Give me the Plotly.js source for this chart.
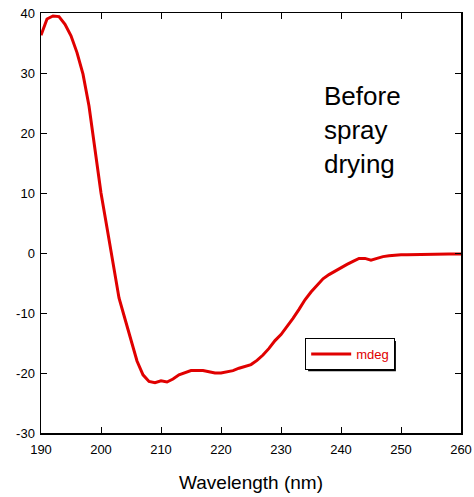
<!DOCTYPE html>
<html>
<head>
<meta charset="utf-8">
<script src="https://cdn.plot.ly/plotly-3.0.1.min.js"></script>
<style>html,body{margin:0;padding:0;background:#fff;}#chart{width:474px;height:497px;}</style>
</head>
<body>
<div id="chart"></div>
<script>
const wavelength = [190,191,192,193,194,195,196,197,198,199,200,201,202,203,204,205,206,207,208,209,210,211,212,213,214,215,216,217,218,219,220,221,222,223,224,225,226,227,228,229,230,231,232,233,234,235,236,237,238,239,240,241,242,243,244,245,246,247,248,249,250,251,252,253,254,255,256,257,258,259,260];
const mdeg = [36.3,39.0,39.5,39.4,38.1,36.2,33.4,29.8,24.5,17.5,10.0,4.2,-1.5,-7.5,-11.0,-14.4,-18.0,-20.3,-21.4,-21.6,-21.3,-21.5,-21.0,-20.3,-19.9,-19.6,-19.6,-19.6,-19.8,-20.0,-20.0,-19.8,-19.6,-19.2,-18.9,-18.6,-17.9,-17.0,-15.9,-14.6,-13.6,-12.3,-10.9,-9.4,-7.8,-6.5,-5.4,-4.3,-3.6,-3.0,-2.4,-1.9,-1.4,-0.9,-0.9,-1.2,-0.9,-0.6,-0.45,-0.35,-0.3,-0.28,-0.25,-0.25,-0.22,-0.2,-0.2,-0.2,-0.18,-0.18,-0.18];
const xTicks = [190,200,210,220,230,240,250,260];
const yTicks = [-30,-20,-10,0,10,20,30,40];

const FONT = 'Arial, "Liberation Sans", sans-serif';
const trace = {
  x: wavelength, y: mdeg, type: 'scatter', mode: 'lines', name: 'mdeg',
  line: {color: '#e00000', width: 3}
};
const axisCommon = {
  showgrid: false, zeroline: false, showline: true, mirror: 'ticks',
  linecolor: '#000', linewidth: 1.5, ticks: 'inside', ticklen: 6, tickwidth: 1,
  tickcolor: '#000', tickfont: {family: FONT, size: 13, color: '#000'}
};
const layout = {
  width: 474, height: 497,
  margin: {l: 41, r: 13, t: 13, b: 64},
  paper_bgcolor: '#fff', plot_bgcolor: '#fff',
  showlegend: true,
  xaxis: Object.assign({}, axisCommon, {
    range: [190, 260], tickvals: xTicks, ticktext: xTicks.map(String), ticklabelstandoff: 4,
    title: {text: 'Wavelength (nm)', font: {family: FONT, size: 19, color: '#000'}, standoff: 19}
  }),
  yaxis: Object.assign({}, axisCommon, {
    range: [-30, 40], tickvals: yTicks, ticktext: yTicks.map(String), ticklabelstandoff: 2
  }),
  legend: {
    x: 0.629, y: 0.226, xanchor: 'left', yanchor: 'top',
    bgcolor: '#fff', bordercolor: '#000', borderwidth: 1,
    font: {family: FONT, size: 13, color: '#e00000'},
    itemwidth: 40
  },
  shapes: [{
    type: 'rect', xref: 'paper', yref: 'paper', layer: 'above',
    x0: 0.636, x1: 0.845, y0: 0.147, y1: 0.219,
    fillcolor: '#000', line: {width: 0}
  }],
  annotations: [{
    xref: 'paper', yref: 'paper', x: 0.668, y: 0.722, xanchor: 'left', yanchor: 'middle',
    align: 'left', showarrow: false,
    text: 'Before<br>spray<br>drying',
    font: {family: FONT, size: 26, color: '#000'}
  }]
};
Plotly.newPlot('chart', [trace], layout, {displayModeBar: false, staticPlot: true});
</script>
</body>
</html>
